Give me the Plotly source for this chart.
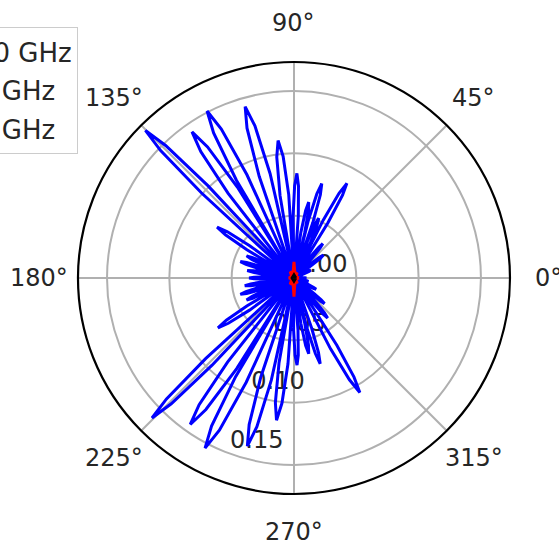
import math
import plotly.graph_objects as go

# Blue pattern (degrees, magnitude), lobe by lobe
blue_theta = [353.5,
              357.6, 358.8, 0, 1.2, 2.4, 6,
              9.6, 10.8, 12, 13.2, 14.4, 18.5,
              22.6, 23.8, 25, 26.2, 27.4, 31.5,
              35.6, 36.8, 38, 39.2, 40.4, 44,
              47.6, 48.8, 50, 51.2, 52.4, 55.4,
              58.4, 59.6, 60.8, 62.0, 63.2, 64.2,
              65.1, 66.3, 67.5, 68.7, 69.9, 70.6,
              71.2, 72.4, 73.6, 74.8, 76.0, 76.3,
              76.6, 77.8, 79, 80.2, 81.4, 83.7,
              86.0, 87.2, 88.4, 89.6, 90.8, 92.5,
              93.6, 95.1, 96.6, 98.1, 99.6, 101.3,
              102.9, 104.4, 105.9, 107.4, 108.9, 111.7,
              114.5, 116.0, 117.5, 119.0, 120.5, 121.2,
              121.9, 123.4, 124.9, 126.4, 127.9, 130.1,
              133.0, 134.1, 135.2, 136.3, 137.4, 140.9,
              143.9, 145.2, 146.5, 147.8, 149.1, 150.8,
              152.6, 153.8, 155, 156.2, 157.4, 159,
              160.6, 161.8, 163, 164.2, 165.4, 167,
              168.6, 169.8, 171, 172.2, 173.4, 175.5,
              177.6, 178.8, 180, 181.2, 182.4, 184.5,
              186.6, 187.8, 189, 190.2, 191.4, 193,
              194.6, 195.8, 197, 198.2, 199.4, 201,
              202.6, 203.8, 205, 206.2, 207.4, 209.2,
              210.7, 212.0, 213.3, 214.6, 215.9, 219.0,
              222.4, 223.5, 224.6, 225.7, 226.8, 229.7,
              231.7, 233.2, 234.7, 236.2, 237.7, 238.6,
              239.4, 240.9, 242.4, 243.9, 245.4, 248.5,
              251.5, 253.0, 254.5, 256.0, 257.5, 258.8,
              260.0, 261.5, 263, 264.5, 266.0, 267.5,
              269.6, 270.8, 272, 273.2, 274.4, 276.5,
              278.6, 279.8, 281, 282.2, 283.4, 284,
              284.6, 285.8, 287, 288.2, 289.4, 293.5,
              297.3, 298.6, 299.9, 301.2, 302.5, 305,
              307.6, 308.8, 310, 311.2, 312.4, 315,
              317.6, 318.8, 320, 321.2, 322.4, 326.5,
              330.6, 331.8, 333, 334.2, 335.4, 340,
              344.6, 345.8, 347, 348.2, 349.4, 353.5]
blue_r = [0.002,
          0.006, 0.0088, 0.010, 0.0088, 0.006, 0.002,
          0.0042, 0.0062, 0.007, 0.0062, 0.0042, 0.002,
          0.009, 0.0132, 0.015, 0.0132, 0.009, 0.002,
          0.018, 0.0264, 0.030, 0.0264, 0.018, 0.002,
          0.0216, 0.0317, 0.036, 0.0317, 0.0216, 0.002,
          0.052, 0.077, 0.087, 0.077, 0.052, 0.002,
          0.031, 0.046, 0.052, 0.046, 0.031, 0.002,
          0.047, 0.070, 0.079, 0.070, 0.047, 0.002,
          0.037, 0.055, 0.062, 0.055, 0.037, 0.002,
          0.050, 0.074, 0.084, 0.074, 0.050, 0.002,
          0.067, 0.098, 0.111, 0.098, 0.067, 0.002,
          0.086, 0.126, 0.143, 0.126, 0.086, 0.002,
          0.091, 0.133, 0.151, 0.133, 0.091, 0.002,
          0.086, 0.126, 0.143, 0.126, 0.086, 0.002,
          0.101, 0.148, 0.168, 0.148, 0.101, 0.002,
          0.044, 0.065, 0.074, 0.065, 0.044, 0.002,
          0.025, 0.037, 0.042, 0.037, 0.025, 0.002,
          0.027, 0.040, 0.045, 0.040, 0.027, 0.002,
          0.023, 0.033, 0.038, 0.033, 0.023, 0.002,
          0.022, 0.032, 0.036, 0.032, 0.022, 0.002,
          0.024, 0.035, 0.040, 0.035, 0.024, 0.002,
          0.027, 0.040, 0.045, 0.040, 0.027, 0.002,
          0.025, 0.037, 0.042, 0.037, 0.025, 0.002,
          0.044, 0.064, 0.073, 0.064, 0.044, 0.002,
          0.096, 0.141, 0.160, 0.141, 0.096, 0.002,
          0.086, 0.127, 0.144, 0.127, 0.086, 0.002,
          0.092, 0.136, 0.154, 0.136, 0.092, 0.002,
          0.084, 0.123, 0.140, 0.123, 0.084, 0.002,
          0.069, 0.101, 0.115, 0.101, 0.069, 0.002,
          0.042, 0.062, 0.070, 0.062, 0.042, 0.002,
          0.037, 0.055, 0.062, 0.055, 0.037, 0.002,
          0.043, 0.063, 0.072, 0.063, 0.043, 0.002,
          0.064, 0.093, 0.106, 0.093, 0.064, 0.002,
          0.025, 0.037, 0.042, 0.037, 0.025, 0.002,
          0.019, 0.028, 0.032, 0.028, 0.019, 0.002,
          0.012, 0.0176, 0.020, 0.0176, 0.012, 0.002,
          0.007, 0.0106, 0.012, 0.0106, 0.007, 0.002]

red_theta = [0, 30, 60, 75, 90, 105, 120, 150, 180, 210, 240, 255, 270, 285, 300, 330, 360]
red_r = [0.004, 0.002, 0.005, 0.003, 0.013, 0.003, 0.006, 0.002, 0.004, 0.002, 0.006, 0.003,
         0.015, 0.003, 0.005, 0.002, 0.004]

black_theta = [0, 90, 180, 270, 360]
black_r = [0.0015, 0.0025, 0.0015, 0.0025, 0.0015]

series_names = ["10 GHz", "5 GHz", "1 GHz"]

angle_ticks = [0, 45, 90, 135, 180, 225, 270, 315]
angle_labels = ["0°", "45°", "90°", "135°", "180°", "225°", "270°", "315°"]
r_ticks = [0.0, 0.05, 0.10, 0.15]
r_labels = ["0.00", "0.05", "0.10", "0.15"]
r_label_angle = 250
r_max = 0.1733

W, H = 559, 547
FONT = "DejaVu Sans"
TXT = "#262626"
dom_x = [0.1395, 0.9123]
dom_y = [0.0951, 0.8885]

fig = go.Figure()

# radial tick labels (matplotlib style: bottom-left corner on the label ray), under the curves
fig.add_trace(go.Scatterpolar(
    theta=[r_label_angle] * len(r_ticks), r=r_ticks, mode="text", text=r_labels,
    textposition="top right", textfont=dict(family=FONT, size=24, color=TXT),
    showlegend=False, hoverinfo="skip", cliponaxis=False))

colors = ["#0000ff", "#ff0000", "#000000"]
for th, rr, name, col in [(blue_theta, blue_r, series_names[0], colors[0]),
                          (red_theta, red_r, series_names[1], colors[1]),
                          (black_theta, black_r, series_names[2], colors[2])]:
    fig.add_trace(go.Scatterpolar(theta=th, r=rr, mode="lines", legendgroup=name,
                                  line=dict(color=col, width=3), name=name))

# angular tick labels centred on a ring just outside the frame (matplotlib style)
cx = (dom_x[0] + dom_x[1]) / 2 * W
cy = (dom_y[0] + dom_y[1]) / 2 * H
radius_px = (dom_x[1] - dom_x[0]) * W / 2
label_ring = radius_px + 38.5
annotations = []
for a, lab in zip(angle_ticks, angle_labels):
    px = cx + label_ring * math.cos(math.radians(a))
    py = cy + label_ring * math.sin(math.radians(a))
    annotations.append(dict(x=px / W, y=py / H, xref="paper", yref="paper", text=lab,
                            showarrow=False, xanchor="center", yanchor="middle",
                            font=dict(family=FONT, size=24, color=TXT)))

fig.update_layout(
    width=W, height=H,
    margin=dict(l=0, r=0, t=0, b=0, autoexpand=False),
    paper_bgcolor="white",
    font=dict(family=FONT, size=24, color=TXT),
    annotations=annotations,
    polar=dict(
        domain=dict(x=dom_x, y=dom_y),
        bgcolor="white",
        angularaxis=dict(
            rotation=0, direction="counterclockwise",
            tickmode="array", tickvals=angle_ticks, ticktext=angle_labels,
            showticklabels=False, ticks="",
            showline=True, linecolor="black", linewidth=2.2,
            showgrid=True, gridcolor="#b0b0b0", gridwidth=1.5,
            layer="below traces",
        ),
        radialaxis=dict(
            range=[0, r_max], angle=r_label_angle,
            tickmode="array", tickvals=r_ticks, ticktext=r_labels,
            showticklabels=False, showline=False, ticks="",
            showgrid=True, gridcolor="#b0b0b0", gridwidth=1.5,
            layer="below traces",
        ),
    ),
    showlegend=True,
    legend=dict(
        x=78 / W, xanchor="right", y=1 - 27 / H, yanchor="top",
        tracegroupgap=2,
        bgcolor="rgba(255,255,255,0.8)", bordercolor="#cccccc", borderwidth=1,
        font=dict(family=FONT, size=26, color=TXT),
    ),
)

fig.write_html("out.html")
